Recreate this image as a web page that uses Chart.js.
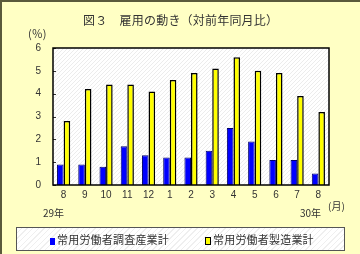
<!DOCTYPE html>
<html>
<head>
<meta charset="utf-8">
<script src="https://cdn.jsdelivr.net/npm/chart.js@4/dist/chart.umd.min.js"></script>
<style>
  body { margin: 0; }
  #wrap {
    position: relative; width: 360px; height: 254px; box-sizing: border-box;
    background: #FFFFC4; border-left: 2px solid #5a5a3c; border-top: 2px solid #5a5a3c;
    font-family: "Noto Sans CJK JP", "Noto Sans", sans-serif; color: #333;
  }
  #chart { position: absolute; left: -2px; top: -2px; }
  .lbl { position: absolute; white-space: nowrap; line-height: 1; }
  #legend {
    position: absolute; left: 14px; top: 225px; width: 329px; height: 24px; box-sizing: border-box;
    border: 1.5px solid #555;
    background: repeating-linear-gradient(135deg, #fff 0 3px, #efefef 3px 4px);
    font-size: 11px;
  }
  .item { position: absolute; top: 6px; line-height: 11px; letter-spacing: 0.2px; }
  .mk { display: inline-block; width: 5px; height: 7px; margin-right: 2px; vertical-align: -1px; }
</style>
</head>
<body>
<div id="wrap">
  <canvas id="chart" width="360" height="254"></canvas>
  <div class="lbl" style="left:81px; top:12px; font-size:12px; letter-spacing:0.2px;">図３　雇用の動き（対前年同月比）</div>
  <div class="lbl" style="left:26px; top:26px; font-size:11px;">(％)</div>
  <div class="lbl" style="left:41px; top:206px; font-size:10px;">29年</div>
  <div class="lbl" style="left:298px; top:206px; font-size:10px;">30年</div>
  <div class="lbl" style="left:326px; top:199px; font-size:10px;">(月)</div>
  <div id="legend">
    <div class="item" style="left:33px;"><span class="mk" style="background:#0000ff;"></span>常用労働者調査産業計</div>
    <div class="item" style="left:188px;"><span class="mk" style="background:#ffff00; border:1px solid #000; width:4px; height:6px;"></span>常用労働者製造業計</div>
  </div>
</div>
<script>
  var months = ['8', '9', '10', '11', '12', '1', '2', '3', '4', '5', '6', '7', '8'];
  var allIndustries = [0.9, 0.9, 0.8, 1.7, 1.3, 1.2, 1.2, 1.5, 2.5, 1.9, 1.1, 1.1, 0.5];
  var manufacturing = [2.8, 4.2, 4.4, 4.4, 4.1, 4.6, 4.9, 5.1, 5.6, 5.0, 4.9, 3.9, 3.2];
  var yTicks = [0, 1, 2, 3, 4, 5, 6];

  // hatched white plot background
  var pat = document.createElement('canvas');
  pat.width = 4; pat.height = 4;
  var pctx = pat.getContext('2d');
  pctx.fillStyle = '#ffffff';
  pctx.fillRect(0, 0, 4, 4);
  pctx.fillStyle = '#ececec';
  pctx.fillRect(3, 0, 1, 1);
  pctx.fillRect(2, 1, 1, 1);
  pctx.fillRect(1, 2, 1, 1);
  pctx.fillRect(0, 3, 1, 1);

  var plotFrame = {
    id: 'plotFrame',
    beforeDatasetsDraw: function(chart) {
      var a = chart.chartArea, ctx = chart.ctx;
      ctx.save();
      ctx.fillStyle = ctx.createPattern(pat, 'repeat');
      ctx.fillRect(a.left, a.top, a.right - a.left, a.bottom - a.top);
      // small inner ticks on the y axis
      ctx.strokeStyle = '#333';
      ctx.lineWidth = 1;
      var ys = chart.scales.y;
      yTicks.forEach(function(v) {
        var py = Math.round(ys.getPixelForValue(v)) + 0.5;
        ctx.beginPath();
        ctx.moveTo(a.left, py);
        ctx.lineTo(a.left + 3, py);
        ctx.stroke();
      });
      ctx.restore();
    },
    afterDraw: function(chart) {
      var a = chart.chartArea, ctx = chart.ctx;
      ctx.save();
      ctx.strokeStyle = '#000';
      ctx.lineWidth = 1.5;
      ctx.strokeRect(a.left, a.top, a.right - a.left, a.bottom - a.top);
      ctx.restore();
    }
  };

  new Chart(document.getElementById('chart'), {
    type: 'bar',
    data: {
      labels: months,
      datasets: [{
        label: '常用労働者調査産業計',
        data: allIndustries,
        backgroundColor: '#0000ff',
        borderColor: '#00006a',
        borderWidth: 1,
        barPercentage: 1,
        categoryPercentage: 0.62
      }, {
        label: '常用労働者製造業計',
        data: manufacturing,
        backgroundColor: '#ffff00',
        borderColor: '#000000',
        borderWidth: 1.5,
        barPercentage: 1,
        categoryPercentage: 0.62
      }]
    },
    options: {
      responsive: false,
      animation: false,
      layout: { padding: { left: 0, right: 31, top: 48, bottom: 50 } },
      plugins: { legend: { display: false }, title: { display: false }, tooltip: { enabled: false } },
      scales: {
        x: {
          grid: { display: false, drawTicks: false },
          border: { display: false },
          ticks: { color: '#333', font: { size: 10, family: 'Liberation Sans' }, padding: 4, maxRotation: 0, autoSkip: false },
          afterFit: function(s) { s.height = 19; }
        },
        y: {
          min: 0, max: 6,
          grid: { display: false, drawTicks: false },
          border: { display: false },
          ticks: { stepSize: 1, color: '#333', font: { size: 10, family: 'Liberation Sans' }, padding: 12 },
          afterFit: function(s) { s.width = 53; }
        }
      }
    },
    plugins: [plotFrame]
  });
</script>
</body>
</html>
